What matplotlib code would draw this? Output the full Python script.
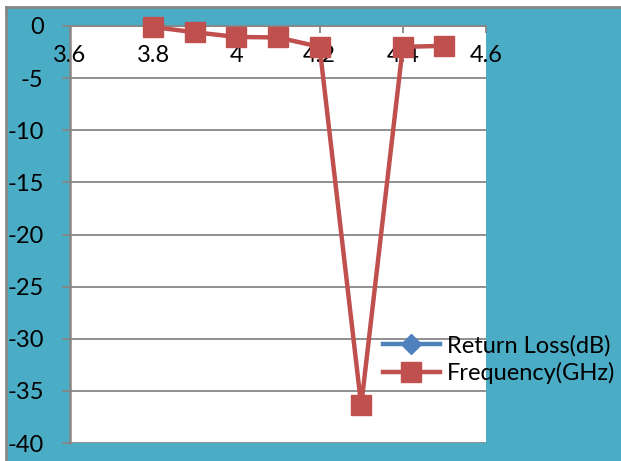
import matplotlib
matplotlib.use("Agg")
import matplotlib.pyplot as plt
from matplotlib.patches import Rectangle

plt.rcParams['font.family'] = ['Lato', 'DejaVu Sans']

# data
freq = [3.8, 3.9, 4.0, 4.1, 4.2, 4.3, 4.4, 4.5]
vals = [-0.1, -0.6, -1.05, -1.1, -2.0, -36.4, -2.0, -1.9]
# the blue series has no visible points
rl_x = []
rl_y = []

xticks = [3.6, 3.8, 4.0, 4.2, 4.4, 4.6]
xtick_labels = ["3.6", "3.8", "4", "4.2", "4.4", "4.6"]
yticks = [0, -5, -10, -15, -20, -25, -30, -35, -40]

blue_bg = "#4BACC6"
red = "#C0504D"
blue = "#4F81BD"
grey = "#878787"
fs = 17

fig = plt.figure(figsize=(6.21, 4.61), dpi=100)
fig.patch.set_facecolor("white")
# blue chart area with a grey border on top / left
bg = Rectangle((7 / 621, 0), 1, 1 - 8 / 461, transform=fig.transFigure,
               facecolor=blue_bg, edgecolor="none", zorder=-10)
fig.add_artist(bg)
fig.add_artist(plt.Line2D([6 / 621, 1], [1 - 7 / 461, 1 - 7 / 461], color=grey, lw=2,
                          transform=fig.transFigure, zorder=-9))
fig.add_artist(plt.Line2D([6 / 621, 6 / 621], [0, 1 - 7 / 461], color=grey, lw=2,
                          transform=fig.transFigure, zorder=-9))

ax = fig.add_axes([70 / 621, 1 - 443 / 461, 416 / 621, 417 / 461])
ax.set_facecolor("white")

ax.plot(rl_x, rl_y, color=blue, lw=3.2, marker="D", ms=10, mec=blue, label="Return Loss(dB)")
ax.plot(freq, vals, color=red, lw=3.2, marker="s", ms=14, mec=red,
        label="Frequency(GHz)", clip_on=False, zorder=5)

ax.set_xlim(3.6, 4.6)
ax.set_ylim(-40, 0)
ax.set_xticks(xticks)
ax.set_xticklabels(xtick_labels)
ax.set_yticks(yticks)
ax.set_yticklabels([str(v) for v in yticks])

ax.yaxis.grid(True, color=grey, lw=1.3)
ax.set_axisbelow(True)

# x axis crosses at y = 0 (top of the plot)
ax.spines["bottom"].set_position(("data", 0))
ax.spines["bottom"].set_color(grey)
ax.spines["bottom"].set_linewidth(1.3)
ax.spines["left"].set_color(grey)
ax.spines["left"].set_linewidth(1.8)
ax.spines["top"].set_visible(False)
ax.spines["right"].set_visible(False)

ax.tick_params(axis="x", direction="out", length=5, width=1.3, color=grey,
               labelsize=fs, pad=9)
ax.tick_params(axis="y", direction="out", length=6, width=1.3, color=grey,
               labelsize=fs, pad=13)

fig.legend(loc="upper left", bbox_to_anchor=(383 / 621, 1 - 335 / 461),
           frameon=False, fontsize=fs, handlelength=2.4, handletextpad=0.3,
           labelspacing=0.22, borderpad=0, borderaxespad=0)

fig.savefig("out.png", dpi=100, facecolor=fig.get_facecolor())
